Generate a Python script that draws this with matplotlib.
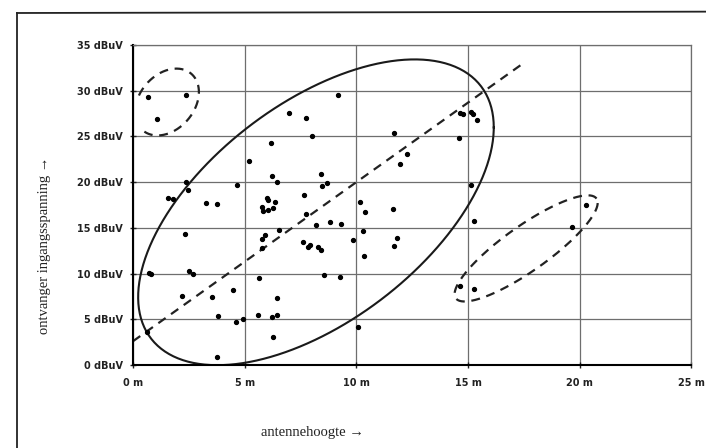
"""
Scatter of receiver input level against antenna height, with the hand-drawn
ellipses and trend line from the original scan.
"""
import matplotlib.pyplot as plt
import numpy as np
from matplotlib.lines import Line2D

# Measured points: antenna height (m) and receiver input level (dBuV)
height_m = [
    0.69, 2.37, 1.06, 9.19, 7.0, 7.74, 8.0, 6.16, 5.19, 6.23,
    6.46, 8.41, 8.44, 8.69, 4.67, 2.37, 2.47, 1.58, 1.78, 3.27,
    3.77, 5.98, 6.05, 6.35, 5.79, 6.25, 5.83, 6.05, 7.65, 7.73,
    8.17, 8.81, 9.31, 10.16, 10.38, 2.33, 0.7, 0.8, 2.52, 2.67,
    2.18, 3.55, 4.49, 3.82, 4.61, 4.91, 5.58, 6.2, 6.46, 6.25,
    3.74, 0.61, 5.65, 6.46, 5.76, 5.91, 5.76, 6.53, 7.59, 7.82,
    7.92, 8.3, 8.4, 8.55, 9.26, 9.83, 10.28, 10.34, 10.08, 11.69,
    14.59, 14.63, 14.78, 15.15, 15.2, 15.38, 12.25, 11.95, 11.65, 15.15,
    15.26, 11.83, 11.69, 14.66, 15.26, 19.63, 20.27,
]
level_dbuv = [
    29.3, 29.5, 26.9, 29.5, 27.6, 27.0, 25.05, 24.3, 22.3, 20.7,
    20.0, 20.9, 19.6, 19.9, 19.7, 20.0, 19.1, 18.3, 18.2, 17.7,
    17.6, 18.3, 18.0, 17.8, 17.3, 17.2, 16.8, 16.9, 18.6, 16.5,
    15.3, 15.6, 15.4, 17.8, 16.7, 14.3, 10.1, 9.9, 10.3, 9.9,
    7.5, 7.4, 8.2, 5.4, 4.65, 5.0, 5.5, 5.2, 5.45, 3.1,
    0.85, 3.6, 9.55, 7.3, 13.8, 14.2, 12.8, 14.8, 13.4, 12.9,
    13.1, 12.9, 12.6, 9.8, 9.6, 13.7, 14.7, 11.9, 4.1, 25.4,
    24.8, 27.6, 27.5, 27.7, 27.4, 26.8, 23.1, 22.0, 17.1, 19.7,
    15.7, 13.9, 13.0, 8.6, 8.35, 15.1, 17.5,
]

x_ticks = [0, 5, 10, 15, 20, 25]
y_ticks = [0, 5, 10, 15, 20, 25, 30, 35]
x_tick_labels = [f"{v} m" for v in x_ticks]
y_tick_labels = [f"{v} dBuV" for v in y_ticks]

# Hand-drawn annotations: centre plus two conjugate half-axis vectors (data units)
main_center, main_a, main_b = (8.19, 16.7), (7.96, 9.28), (0.0, 13.91)
top_center, top_a, top_b = (1.52, 28.76), (1.43, 1.09), (0.0, 3.49)
right_center, right_a, right_b = (17.6, 12.75), (3.15, 5.45), (-0.58, 2.0)
trend_intercept, trend_slope, trend_end = 2.6, 1.74, 17.5


def ellipse_xy(center, a, b, t0=0.0, t1=2 * np.pi, n=300):
    t = np.linspace(t0, t1, n)
    x = center[0] + a[0] * np.cos(t) + b[0] * np.sin(t)
    y = center[1] + a[1] * np.cos(t) + b[1] * np.sin(t)
    return x, y


fig = plt.figure(figsize=(7.06, 4.48), dpi=100)
ax = fig.add_axes([0.1884, 0.1853, 0.7910, 0.7143])

dash = (0, (4, 3))

# grid and plot area
ax.set_xlim(0, 25)
ax.set_ylim(0, 35)
ax.set_xticks(x_ticks)
ax.set_yticks(y_ticks)
ax.set_xticklabels(x_tick_labels, fontsize=7, fontweight="bold")
ax.set_yticklabels(y_tick_labels, fontsize=7, fontweight="bold")
ax.grid(True, color="#6e6e6e", linewidth=0.9)
ax.set_axisbelow(True)
for side in ["top", "right"]:
    ax.spines[side].set_color("#6e6e6e")
    ax.spines[side].set_linewidth(0.9)
for side in ["left", "bottom"]:
    ax.spines[side].set_color("black")
    ax.spines[side].set_linewidth(1.5)
ax.tick_params(axis="x", direction="inout", length=5, width=1, pad=7, colors="#222222")
ax.tick_params(axis="y", direction="inout", length=5, width=1, pad=5, colors="#222222")

# trend line
tx = np.array([0.0, trend_end])
ax.plot(tx, trend_intercept + trend_slope * tx, color="#222222", linewidth=1.6, linestyle=dash)

# ellipses
ex, ey = ellipse_xy(main_center, main_a, main_b)
ax.plot(ex, ey, color="#1a1a1a", linewidth=1.5)
ex, ey = ellipse_xy(top_center, top_a, top_b, np.radians(-135), np.radians(160))
ax.plot(ex, ey, color="#222222", linewidth=1.6, linestyle=dash)
ex, ey = ellipse_xy(right_center, right_a, right_b)
ax.plot(ex, ey, color="#222222", linewidth=1.6, linestyle=dash)

# measurements
ax.plot(height_m, level_dbuv, "o", color="black", markersize=2.8, linestyle="none", clip_on=False)

# axis titles (serif, as in the scan)
serif = ["Liberation Serif", "DejaVu Serif"]
fig.text(312 / 706, 1 - 432 / 448, "antennehoogte \u2192", family=serif, fontsize=10.5,
         ha="center", va="center", color="#222222")
fig.text(45 / 706, 1 - 245 / 448, "ontvanger ingangsspanning \u2192", family=serif,
         fontsize=10.5, rotation=90, ha="center", va="center", color="#222222")

# outer frame of the scanned figure
fig.add_artist(Line2D([0.024, 0.024], [0.0, 0.971], color="#222222", linewidth=1.3))
fig.add_artist(Line2D([0.024, 1.0], [0.971, 0.974], color="#222222", linewidth=1.3))

fig.savefig("out.png", dpi=100)
